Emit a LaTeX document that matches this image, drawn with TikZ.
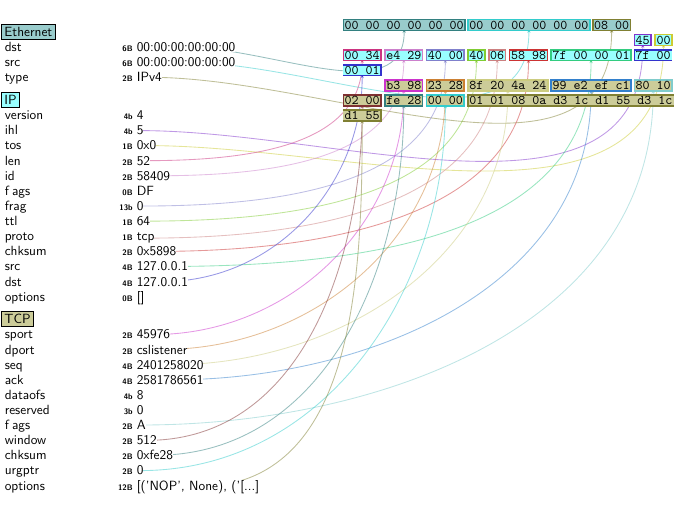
\documentclass[tikz,border=0pt]{standalone}
\usetikzlibrary{arrows.meta,backgrounds}

% layer backgrounds
\definecolor{bkEth}{rgb}{0.6,0.8,0.8}
\definecolor{bkIP}{rgb}{0.6,1,1}
\definecolor{bkTCP}{rgb}{0.8,0.8,0.6}
% field colours
\definecolor{cTeal}{rgb}{0.2,0.5,0.5}
\definecolor{cCyan}{rgb}{0.2,0.8,0.8}
\definecolor{cOlive}{rgb}{0.5,0.5,0.2}
\definecolor{cPurple}{rgb}{0.5,0.2,0.8}
\definecolor{cYellow}{rgb}{0.8,0.8,0.2}
\definecolor{cCrimson}{rgb}{0.8,0.2,0.5}
\definecolor{cPlum}{rgb}{0.8,0.5,0.8}
\definecolor{cLavender}{rgb}{0.5,0.5,0.8}
\definecolor{cLime}{rgb}{0.5,0.8,0.2}
\definecolor{cRose}{rgb}{0.8,0.5,0.5}
\definecolor{cRed}{rgb}{0.8,0.2,0.2}
\definecolor{cMint}{rgb}{0.2,0.8,0.5}
\definecolor{cBlue}{rgb}{0.2,0.2,0.8}
\definecolor{cMagenta}{rgb}{0.8,0.2,0.8}
\definecolor{cOrange}{rgb}{0.8,0.5,0.2}
\definecolor{cBeige}{rgb}{0.8,0.8,0.5}
\definecolor{cSky}{rgb}{0.2,0.5,0.8}
\definecolor{cPaleTeal}{rgb}{0.5,0.8,0.8}
\definecolor{cBrown}{rgb}{0.5,0.2,0.2}

\tikzset{
  fname/.style={anchor=base west, inner sep=0pt, font=\sffamily},
  fsize/.style={anchor=base east, inner sep=0pt, font=\fontsize{6}{7}\selectfont\sffamily\bfseries},
  fval/.style={anchor=base west, inner sep=0pt, outer sep=0pt, fill=white, font=\sffamily},
  protobox/.style={anchor=base west, inner sep=2pt, outer sep=0pt, draw=black,
    line width=0.57pt, font=\sffamily},
  hexbox/.style 2 args={anchor=base west, inner sep=1pt, outer sep=0pt, line width=1.13pt,
    font=\ttfamily, text height=6.11pt, text depth=0pt, draw=#1, fill=#2},
  hexfill/.style={anchor=base west, inner sep=1pt, outer sep=0pt,
    font=\ttfamily, text height=6.11pt, text depth=0pt, fill=#1},
  hexframe/.style={draw=#1, line width=1.13pt},
  fieldlink/.style={draw=#1, line width=0.65pt, draw opacity=0.5,
    -{Stealth[length=3pt,width=2.6pt]}, shorten >=3.06pt},
}

% one dissected field: id, baseline, name, size, value
\newcommand\pktfield[5]{%
  \node[fname] (n#1) at (4.5,#2) {#3};
  \node[fsize] (s#1) at (133,#2) {#4};
  \node[fval] (v#1) at (136.8,#2) {#5};}

\begin{document}
\begin{tikzpicture}[x=0.75pt,y=-0.75pt]
\useasboundingbox (0,0) rectangle (674,514);

% ---------- field list ----------
\node[protobox, fill=bkEth] (lEth) at (1.83,36.56) {Ethernet};
\pktfield{Edst}{51.68}{dst}{6B}{00:00:00:00:00:00}
\pktfield{Esrc}{66.80}{src}{6B}{00:00:00:00:00:00}
\pktfield{Etype}{81.91}{type}{2B}{IPv4}

\node[protobox, fill=bkIP] (lIP) at (1.83,104.59) {IP};
\pktfield{Iver}{119.71}{version}{4b}{4}
\pktfield{Iihl}{134.83}{ihl}{4b}{5}
\pktfield{Itos}{149.94}{tos}{1B}{0x0}
\pktfield{Ilen}{165.06}{len}{2B}{52}
\pktfield{Iid}{180.18}{id}{2B}{58409}
\pktfield{Iflags}{195.30}{f\hphantom{l}ags}{0B}{DF}
\pktfield{Ifrag}{210.42}{frag}{13b}{0}
\pktfield{Ittl}{225.53}{ttl}{1B}{64}
\pktfield{Iproto}{240.65}{proto}{1B}{tcp}
\pktfield{Ichk}{255.77}{chksum}{2B}{0x5898}
\pktfield{Isrc}{270.89}{src}{4B}{127.0.0.1}
\pktfield{Idst}{286.01}{dst}{4B}{127.0.0.1}
\pktfield{Iopt}{301.12}{options}{0B}{[]}

\node[protobox, fill=bkTCP] (lTCP) at (1.83,323.80) {TCP};
\pktfield{Tsport}{338.92}{sport}{2B}{45976}
\pktfield{Tdport}{354.04}{dport}{2B}{cslistener}
\pktfield{Tseq}{369.16}{seq}{4B}{2401258020}
\pktfield{Tack}{384.27}{ack}{4B}{2581786561}
\pktfield{Tdofs}{399.39}{dataofs}{4b}{8}
\pktfield{Tres}{414.51}{reserved}{3b}{0}
\pktfield{Tflags}{429.63}{f\hphantom{l}ags}{2B}{A}
\pktfield{Twin}{444.75}{window}{2B}{512}
\pktfield{Tchk}{459.86}{chksum}{2B}{0xfe28}
\pktfield{Turg}{474.98}{urgptr}{2B}{0}
\pktfield{Topt}{490.10}{options}{12B}{[('NOP', None), ('[...]}

% ---------- hex dump ----------
% Ethernet
\node[hexbox={cTeal}{bkEth}] (hEdst) at (343.37,29.00) {00 00 00 00 00 00};
\node[hexbox={cCyan}{bkEth}] (hEsrc) at (468.09,29.00) {00 00 00 00 00 00};
\node[hexbox={cOlive}{bkEth}] (hEtype) at (592.81,29.00) {08 00};
% IP
\node[hexbox={cPurple}{bkIP}] (hIihl) at (634.39,44.12) {45};
\node[hexbox={cYellow}{bkIP}] (hItos) at (655.18,44.12) {00};
\node[hexbox={cCrimson}{bkIP}] (hIlen) at (343.37,59.24) {00 34};
\node[hexbox={cPlum}{bkIP}] (hIid) at (384.94,59.24) {e4 29};
\node[hexbox={cLavender}{bkIP}] (hIfrag) at (426.52,59.24) {40 00};
\node[hexbox={cLime}{bkIP}] (hIttl) at (468.09,59.24) {40};
\node[hexbox={cRose}{bkIP}] (hIproto) at (488.88,59.24) {06};
\node[hexbox={cRed}{bkIP}] (hIchk) at (509.66,59.24) {58 98};
\node[hexbox={cMint}{bkIP}] (hIsrc) at (551.24,59.24) {7f 00 00 01};
\node[hexfill=bkIP] (hIdsta) at (634.39,59.24) {7f 00};
\node[hexfill=bkIP] (hIdstb) at (343.37,74.35) {00 01};
\draw[hexframe=cBlue]
  (hIdsta.north east) -- (hIdsta.north west) -- (hIdsta.south west) -- (hIdsta.south east)
  (hIdstb.north west) -- (hIdstb.north east) -- (hIdstb.south east) -- (hIdstb.south west);
% TCP
\node[hexbox={cMagenta}{bkTCP}] (hTsport) at (384.94,89.47) {b3 98};
\node[hexbox={cOrange}{bkTCP}] (hTdport) at (426.52,89.47) {23 28};
\node[hexbox={cBeige}{bkTCP}] (hTseq) at (468.09,89.47) {8f 20 4a 24};
\node[hexbox={cSky}{bkTCP}] (hTack) at (551.24,89.47) {99 e2 ef c1};
\node[hexbox={cPaleTeal}{bkTCP}] (hTflags) at (634.39,89.47) {80 10};
\node[hexbox={cBrown}{bkTCP}] (hTwin) at (343.37,104.59) {02 00};
\node[hexbox={cTeal}{bkTCP}] (hTchk) at (384.94,104.59) {fe 28};
\node[hexbox={cCyan}{bkTCP}] (hTurg) at (426.52,104.59) {00 00};
\node[hexfill=bkTCP] (hTopta) at (468.09,104.59) {01 01 08 0a d3 1c d1 55 d3 1c};
\node[hexfill=bkTCP] (hToptb) at (343.37,119.71) {d1 55};
\draw[hexframe=cOlive]
  (hTopta.north east) -- (hTopta.north west) -- (hTopta.south west) -- (hTopta.south east)
  (hToptb.north west) -- (hToptb.north east) -- (hToptb.south east) -- (hToptb.south west);

% ---------- value -> bytes links ----------
\begin{scope}[on background layer]
  \draw[fieldlink=cTeal]     (vEdst.center)   to[out=0,in=-90] (hEdst.center);
  \draw[fieldlink=cCyan]     (vEsrc.center)   to[out=0,in=-90] (hEsrc.center);
  \draw[fieldlink=cOlive]    (vEtype.center)  to[out=0,in=-90] (hEtype.center);
  \draw[fieldlink=cPurple]   (vIihl.center)   to[out=0,in=-90] (hIihl.center);
  \draw[fieldlink=cYellow]   (vItos.center)   to[out=0,in=-90] (hItos.center);
  \draw[fieldlink=cCrimson]  (vIlen.center)   to[out=0,in=-90] (hIlen.center);
  \draw[fieldlink=cPlum]     (vIid.center)    to[out=0,in=-90] (hIid.center);
  \draw[fieldlink=cLavender] (vIfrag.center)  to[out=0,in=-90] (hIfrag.center);
  \draw[fieldlink=cLime]     (vIttl.center)   to[out=0,in=-90] (hIttl.center);
  \draw[fieldlink=cRose]     (vIproto.center) to[out=0,in=-90] (hIproto.center);
  \draw[fieldlink=cRed]      (vIchk.center)   to[out=0,in=-90] (hIchk.center);
  \draw[fieldlink=cMint]     (vIsrc.center)   to[out=0,in=-90] (hIsrc.center);
  \draw[fieldlink=cBlue]     (vIdst.center)   to[out=0,in=-90] (hIdstb.center);
  \draw[fieldlink=cMagenta]  (vTsport.center) to[out=0,in=-90] (hTsport.center);
  \draw[fieldlink=cOrange]   (vTdport.center) to[out=0,in=-90] (hTdport.center);
  \draw[fieldlink=cBeige]    (vTseq.center)   to[out=0,in=-90] (hTseq.center);
  \draw[fieldlink=cSky]      (vTack.center)   to[out=0,in=-90] (hTack.center);
  \draw[fieldlink=cPaleTeal] (vTflags.center) to[out=0,in=-90] (hTflags.center);
  \draw[fieldlink=cBrown]    (vTwin.center)   to[out=0,in=-90] (hTwin.center);
  \draw[fieldlink=cTeal]     (vTchk.center)   to[out=0,in=-90] (hTchk.center);
  \draw[fieldlink=cCyan]     (vTurg.center)   to[out=0,in=-90] (hTurg.center);
  \draw[fieldlink=cOlive]    (vTopt.center)   to[out=0,in=-90] (hToptb.center);
\end{scope}
\end{tikzpicture}
\end{document}
